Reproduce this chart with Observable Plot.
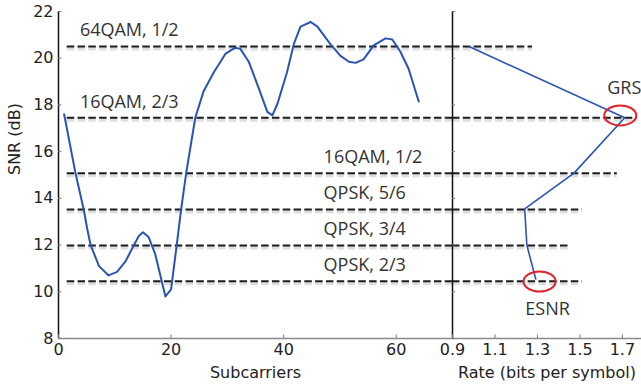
<!DOCTYPE html>
<html><head><meta charset="utf-8">
<script src="https://cdn.jsdelivr.net/npm/d3@7"></script>
<script src="https://cdn.jsdelivr.net/npm/@observablehq/plot@0.6"></script>
<style>
html,body{margin:0;padding:0;background:#fff;}
#chart{position:relative;width:641px;height:391px;overflow:hidden;background:#fff;}
#chart svg{position:absolute;top:0;}
</style></head><body><div id="chart"></div>
<script>
// SNR per subcarrier (left panel)
const subcarriers = [1, 3, 4.5, 5.1, 5.7, 7.2, 8.9, 10.4, 11.9, 13.4, 14.3, 15, 16, 17.2, 19, 20, 21, 21.8, 22.7, 24.3, 25.8, 27.6, 29.7, 31.4, 32.3, 33.8, 35.6, 37.1, 38, 38.9, 40.6, 41.8, 43, 44.8, 46, 48.3, 50.1, 51.6, 52.8, 54.2, 56, 58.1, 59.3, 60.7, 62.2, 64];
const snrDb = [17.6, 15.1, 13.5, 12.7, 12.0, 11.1, 10.7, 10.85, 11.3, 12.0, 12.4, 12.55, 12.35, 11.6, 9.8, 10.1, 12.0, 13.55, 15.1, 17.45, 18.6, 19.4, 20.2, 20.45, 20.4, 19.85, 18.7, 17.7, 17.55, 18.05, 19.4, 20.6, 21.35, 21.55, 21.35, 20.6, 20.1, 19.85, 19.8, 19.95, 20.55, 20.85, 20.8, 20.3, 19.55, 18.15];

// MCS thresholds (dashed lines)
const mcsNames = ["64QAM, 1/2", "16QAM, 2/3", "16QAM, 1/2", "QPSK, 5/6", "QPSK, 3/4", "QPSK, 2/3"];
const mcsThreshold = [20.5, 17.45, 15.08, 13.52, 11.98, 10.45];
const mcsRateExtent = [1.277, 1.77, 1.676, 1.512, 1.447, 1.512];

// Rate vs SNR (right panel)
const rateValues = [0.978, 1.711, 1.472, 1.24, 1.25, 1.292];
const rateSnr = [20.5, 17.45, 15.08, 13.55, 12.0, 10.55];

// Highlighted points
const markerNames = ["GRS", "ESNR"];
const markerRate = [1.69, 1.31];
const markerSnr = [17.55, 10.44];

// Ticks
const snrTicks = [8, 10, 12, 14, 16, 18, 20, 22];
const subcarrierTicks = [0, 20, 40, 60];
const rateTicks = [0.9, 1.1, 1.3, 1.5, 1.7];

const curve = subcarriers.map((x, i) => ({x, y: snrDb[i]}));
const mcs = mcsNames.map((name, i) => ({name, snr: mcsThreshold[i], end: mcsRateExtent[i]}));
const rateLine = rateValues.map((r, i) => ({r, snr: rateSnr[i]}));
const markers = markerNames.map((name, i) => ({name, r: markerRate[i], snr: markerSnr[i]}));

const blue = "#2a54b4";
const axisFont = "DejaVu Sans";
const labelFont = "Open Sans";
const dash = "7.5,3.3";

const ellipse = {draw(ctx) {
  const rx = 16, ry = 10, k = 0.5523;
  ctx.moveTo(rx, 0);
  ctx.bezierCurveTo(rx, ry * k, rx * k, ry, 0, ry);
  ctx.bezierCurveTo(-rx * k, ry, -rx, ry * k, -rx, 0);
  ctx.bezierCurveTo(-rx, -ry * k, -rx * k, -ry, 0, -ry);
  ctx.bezierCurveTo(rx * k, -ry, rx, -ry * k, rx, 0);
  ctx.closePath();
}};

const common = {
  height: 391, marginTop: 11, marginBottom: 53,
  style: {background: "transparent", overflow: "visible", fontFamily: axisFont, fontSize: "16px"}
};

const left = Plot.plot({
  ...common,
  width: 452, marginLeft: 58, marginRight: 0,
  x: {domain: [0, 70], axis: null},
  y: {domain: [8, 22], axis: null},
  marks: [
    // dashed thresholds with soft shadow
    Plot.ruleY(mcs, {y: "snr", x1: 1.55, x2: 70, stroke: "#000", strokeOpacity: 0.13, strokeWidth: 4, dy: 2, strokeDasharray: dash}),
    Plot.ruleY(mcs, {y: "snr", x1: 1.55, x2: 70, stroke: "#1e1e1e", strokeWidth: 2, strokeDasharray: dash}),
    Plot.line(curve, {x: "x", y: "y", stroke: blue, strokeWidth: 2}),
    Plot.text(mcs, {x: (d, i) => i < 2 ? 3.8 : 47.1, y: "snr", text: "name", dy: -16, textAnchor: "start",
      fontFamily: labelFont, fontSize: 18, fill: "#333"}),
    // axes
    Plot.ruleY([8], {stroke: "#8a8a8a", strokeWidth: 1.5}),
    Plot.ruleX([0], {stroke: "#111", strokeWidth: 1.5}),
    Plot.ruleY(snrTicks, {x1: 0, x2: 0.6, stroke: "#777"}),
    Plot.ruleX(subcarrierTicks, {y1: 8, y2: 8.15, stroke: "#777"}),
    Plot.text(snrTicks, {y: d => d, text: d => String(d), frameAnchor: "left", textAnchor: "end", dx: -5,
      fontFamily: axisFont, fontSize: 16, fill: "#222"}),
    Plot.text(subcarrierTicks, {x: d => d, text: d => String(d), frameAnchor: "bottom", dy: 16,
      fontFamily: axisFont, fontSize: 16, fill: "#222"}),
    Plot.text(["Subcarriers"], {frameAnchor: "bottom", dy: 39, fontFamily: axisFont, fontSize: 16, fill: "#222"}),
    Plot.text(["SNR (dB)"], {frameAnchor: "left", rotate: -90, dx: -44, fontFamily: axisFont, fontSize: 16, fill: "#222"})
  ]
});
left.style.left = "0px";

const right = Plot.plot({
  ...common,
  width: 189, marginLeft: 0, marginRight: 0,
  x: {domain: [0.9, 1.79], axis: null},
  y: {domain: [8, 22], axis: null},
  marks: [
    Plot.ruleY(mcs, {y: "snr", x1: 0.9, x2: "end", stroke: "#000", strokeOpacity: 0.13, strokeWidth: 4, dy: 2, strokeDasharray: dash}),
    Plot.ruleY(mcs, {y: "snr", x1: 0.9, x2: "end", stroke: "#1e1e1e", strokeWidth: 2, strokeDasharray: dash}),
    Plot.line(rateLine, {x: "r", y: "snr", stroke: blue, strokeWidth: 1.6}),
    Plot.dot(markers, {x: "r", y: "snr", symbol: ellipse, r: 5, fill: "none", stroke: "#e3232b", strokeWidth: 2}),
    Plot.text(markers, {x: "r", y: "snr", text: "name", dx: (0), dy: 0, fontFamily: labelFont, fontSize: 18, fill: "#333",
      filter: d => d.name === "GRS", dx: 4, dy: -27}),
    Plot.text(markers, {x: "r", y: "snr", text: "name", fontFamily: labelFont, fontSize: 18, fill: "#333",
      filter: d => d.name === "ESNR", dx: 8, dy: 28}),
    // axes
    Plot.ruleY([8], {stroke: "#8a8a8a", strokeWidth: 1.5}),
    Plot.ruleX([0.9], {stroke: "#111", strokeWidth: 1.5}),
    Plot.ruleY(snrTicks, {x1: 0.9, x2: 0.915, stroke: "#777"}),
    Plot.ruleX(rateTicks, {y1: 8, y2: 8.15, stroke: "#777"}),
    Plot.text(rateTicks, {x: d => d, text: d => d.toFixed(1), frameAnchor: "bottom", dy: 16,
      fontFamily: axisFont, fontSize: 16, fill: "#222"}),
    Plot.text(["Rate (bits per symbol)"], {frameAnchor: "bottom", dy: 39, fontFamily: axisFont, fontSize: 16, fill: "#222"})
  ]
});
right.style.left = "452px";

const chart = document.getElementById("chart");
chart.appendChild(left);
chart.appendChild(right);
</script></body></html>
